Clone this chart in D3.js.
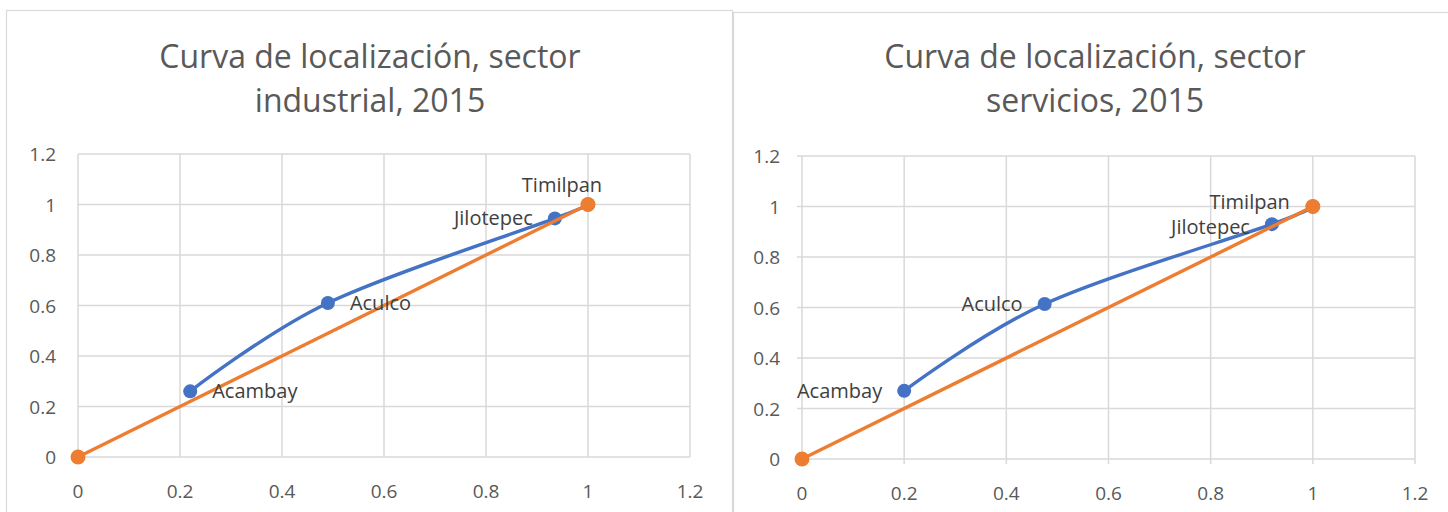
<!DOCTYPE html>
<html>
<head>
<meta charset="utf-8">
<script src="https://cdn.jsdelivr.net/npm/d3@7"></script>
<style>
  body { margin: 0; background: #fff; }
  svg { display: block; }
</style>
</head>
<body>
<div id="chart"></div>
<script>
var municipios = ["Acambay", "Aculco", "Jilotepec", "Timilpan"];
var industrialX = [0.22, 0.49, 0.935, 1];
var industrialY = [0.26, 0.61, 0.945, 1];
var serviciosX = [0.20, 0.475, 0.92, 1];
var serviciosY = [0.27, 0.614, 0.93, 1];
var igualdadX = [0, 1];
var igualdadY = [0, 1];
var xTicks = [0, 0.2, 0.4, 0.6, 0.8, 1, 1.2];
var yTicks = [0, 0.2, 0.4, 0.6, 0.8, 1, 1.2];
var titles = [
  ["Curva de localización, sector", "industrial, 2015"],
  ["Curva de localización, sector", "servicios, 2015"]
];

var width = 1448, height = 512;
var font = "'Open Sans', 'Noto Sans', sans-serif";

var svg = d3.select("#chart")
  .append("svg")
  .attr("width", width)
  .attr("height", height);

// frame, plot box, label placement for each chart
var charts = [
  {frame: [6, 10, 726, 520], plot: [78, 154, 690, 457], xs: industrialX, ys: industrialY,
   title: titles[0], titleX: 370, ticks: false,
   labelPos: ["right", "right", "left", "above"]},
  {frame: [733, 12, 730, 520], plot: [802, 156, 1415, 459], xs: serviciosX, ys: serviciosY,
   title: titles[1], titleX: 1095, ticks: true,
   labelPos: ["left", "left", "leftLow", "aboveLeft"]}
];

var drawChart = function(c) {
  var g = svg.append("g");

  g.append("rect")
    .attr("x", c.frame[0] + 0.5).attr("y", c.frame[1] + 0.5)
    .attr("width", c.frame[2]).attr("height", c.frame[3])
    .style("fill", "#fff").style("stroke", "#d9d9d9").style("stroke-width", 1.2);

  g.selectAll("text.title")
    .data(c.title)
    .enter().append("text")
    .attr("class", "title")
    .attr("x", c.titleX)
    .attr("y", function(d, i){ return 68 + i * 44; })
    .attr("text-anchor", "middle")
    .style("font-family", font)
    .style("font-size", "32px")
    .style("fill", "#595959")
    .text(function(d){ return d; });

  var x = d3.scaleLinear().domain([0, 1.2]).range([c.plot[0], c.plot[2]]);
  var y = d3.scaleLinear().domain([0, 1.2]).range([c.plot[3], c.plot[1]]);

  // gridlines
  g.selectAll("line.vertical")
    .data(xTicks)
    .enter().append("line")
    .attr("x1", function(d){ return x(d); })
    .attr("x2", function(d){ return x(d); })
    .attr("y1", y(1.2))
    .attr("y2", y(0) + (c.ticks ? 5 : 0))
    .style("stroke", "#d9d9d9")
    .style("stroke-width", 1.5);

  g.selectAll("line.horizontal")
    .data(yTicks)
    .enter().append("line")
    .attr("x1", x(0) - (c.ticks ? 5 : 0))
    .attr("x2", x(1.2))
    .attr("y1", function(d){ return y(d); })
    .attr("y2", function(d){ return y(d); })
    .style("stroke", "#d9d9d9")
    .style("stroke-width", 1.5);

  // tick labels
  g.selectAll("text.xtick")
    .data(xTicks)
    .enter().append("text")
    .attr("x", function(d){ return x(d); })
    .attr("y", y(0) + 41)
    .attr("text-anchor", "middle")
    .style("font-family", font)
    .style("font-size", "19px")
    .style("fill", "#595959")
    .text(function(d){ return d3.format("~g")(d); });

  g.selectAll("text.ytick")
    .data(yTicks)
    .enter().append("text")
    .attr("x", x(0) - 22)
    .attr("y", function(d){ return y(d) + 7; })
    .attr("text-anchor", "end")
    .style("font-family", font)
    .style("font-size", "19px")
    .style("fill", "#595959")
    .text(function(d){ return d3.format("~g")(d); });

  var pts = c.xs.map(function(v, i){ return {x: v, y: c.ys[i], name: municipios[i], pos: c.labelPos[i]}; });
  var eq = igualdadX.map(function(v, i){ return {x: v, y: igualdadY[i]}; });

  var curve = d3.line()
    .x(function(d){ return x(d.x); })
    .y(function(d){ return y(d.y); })
    .curve(d3.curveCardinal.tension(0));

  g.append("path")
    .datum(pts)
    .attr("d", curve)
    .style("fill", "none")
    .style("stroke", "#4472c4")
    .style("stroke-width", 3.4);

  g.selectAll("circle.blue")
    .data(pts)
    .enter().append("circle")
    .attr("cx", function(d){ return x(d.x); })
    .attr("cy", function(d){ return y(d.y); })
    .attr("r", 7)
    .style("fill", "#4472c4");

  var straight = d3.line()
    .x(function(d){ return x(d.x); })
    .y(function(d){ return y(d.y); });

  g.append("path")
    .datum(eq)
    .attr("d", straight)
    .style("fill", "none")
    .style("stroke", "#ed7d31")
    .style("stroke-width", 3.4);

  g.selectAll("circle.orange")
    .data(eq)
    .enter().append("circle")
    .attr("cx", function(d){ return x(d.x); })
    .attr("cy", function(d){ return y(d.y); })
    .attr("r", 7.5)
    .style("fill", "#ed7d31");

  // data labels
  g.selectAll("text.label")
    .data(pts)
    .enter().append("text")
    .attr("x", function(d){
      if (d.pos == "right") return x(d.x) + 22;
      if (d.pos == "left" || d.pos == "leftLow") return x(d.x) - 22;
      if (d.pos == "aboveLeft") return x(d.x) - 23;
      return x(d.x) - 26;
    })
    .attr("y", function(d){
      if (d.pos == "above") return y(d.y) - 13;
      if (d.pos == "aboveLeft") return y(d.y) + 2;
      if (d.pos == "leftLow") return y(d.y) + 10;
      return y(d.y) + 7;
    })
    .attr("text-anchor", function(d){
      if (d.pos == "right") return "start";
      if (d.pos == "above") return "middle";
      return "end";
    })
    .style("font-family", font)
    .style("font-size", "20px")
    .style("fill", "#404040")
    .text(function(d){ return d.name; });
};

charts.forEach(drawChart);
</script>
</body>
</html>
